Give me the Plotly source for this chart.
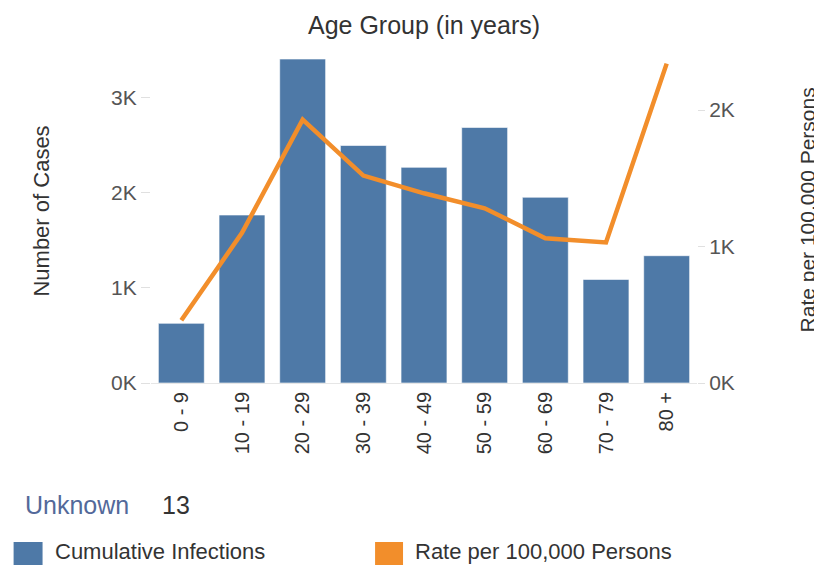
import plotly.graph_objects as go

age_groups = ["0 - 9", "10 - 19", "20 - 29", "30 - 39", "40 - 49", "50 - 59", "60 - 69", "70 - 79", "80 +"]
cumulative_infections = [628, 1768, 3410, 2500, 2270, 2690, 1955, 1090, 1340]
rate_per_100k = [460, 1100, 1930, 1520, 1390, 1280, 1060, 1030, 2340]
left_ticks = [0, 1000, 2000, 3000]
left_tick_text = ["0K", "1K", "2K", "3K"]
right_ticks = [0, 1000, 2000]
right_tick_text = ["0K", "1K", "2K"]
unknown_count = 13

BLUE = "#4e79a7"
ORANGE = "#f28e2b"
FONT = "Liberation Sans, Arial, sans-serif"

W, H = 822, 565
OFF = 8  # page body margin
L, R, T, B = 150.6 - OFF, 697.4 - OFF, 50 - OFF, 383 - OFF
PW, PH = R - L, B - T

def px(x):
    return (x - OFF - L) / PW

def py(y):
    return (B - (y - OFF)) / PH

fig = go.Figure()
fig.add_trace(go.Bar(
    x=age_groups, y=cumulative_infections, name="Cumulative Infections",
    marker=dict(color=BLUE, line=dict(color="rgba(255,255,255,0.6)", width=1)),
    showlegend=False,
))
fig.add_trace(go.Scatter(
    x=age_groups, y=rate_per_100k, name="Rate per 100,000 Persons", yaxis="y2",
    mode="lines", line=dict(color=ORANGE, width=4.5), showlegend=False,
))

fig.update_layout(
    width=W, height=H,
    margin=dict(l=L, r=W - R, t=T, b=H - B, pad=0),
    paper_bgcolor="white", plot_bgcolor="white",
    bargap=0.243,
    font=dict(family=FONT, color="#333"),
    xaxis=dict(type="category", tickangle=-90, showgrid=False, zeroline=False,
               showline=True, linecolor="#e6e6e6", ticks="",
               tickfont=dict(size=20, color="#333")),
    yaxis=dict(range=[0, 3505], tickvals=left_ticks, ticktext=left_tick_text,
               showgrid=False, zeroline=False, showline=False,
               ticks="outside", ticklen=9, tickcolor="#e0e0e0",
               tickfont=dict(size=21, color="#555")),
    yaxis2=dict(range=[0, 2440], tickvals=right_ticks, ticktext=right_tick_text,
                overlaying="y", side="right", showgrid=False, zeroline=False,
                showline=False, ticks="outside", ticklen=7, tickcolor="#e0e0e0",
                tickfont=dict(size=21, color="#555")),
)

ann = [
    dict(text="Age Group (in years)", x=0.5, y=py(25), font=dict(size=25, color="#333"),
         xanchor="center", yanchor="middle"),
    dict(text="Number of Cases", x=px(40), y=py(211), textangle=-90,
         font=dict(size=22, color="#333"), xanchor="center", yanchor="middle"),
    dict(text="Rate per 100,000 Persons", x=px(808), y=py(210), textangle=-90,
         font=dict(size=21, color="#333"), xanchor="center", yanchor="middle"),
    dict(text="Unknown", x=px(22), y=py(505), font=dict(size=25, color="#53699a"),
         xanchor="left", yanchor="middle"),
    dict(text=str(unknown_count), x=px(160), y=py(505), font=dict(size=25, color="#333"),
         xanchor="left", yanchor="middle"),
    dict(text="Cumulative Infections", x=px(52), y=py(551), font=dict(size=22, color="#333"),
         xanchor="left", yanchor="middle"),
    dict(text="Rate per 100,000 Persons", x=px(413), y=py(551), font=dict(size=22, color="#333"),
         xanchor="left", yanchor="middle"),
]
for a in ann:
    a.update(xref="paper", yref="paper", showarrow=False)
fig.update_layout(annotations=ann)

fig.update_layout(shapes=[
    dict(type="rect", xref="paper", yref="paper", x0=px(13), x1=px(42), y0=py(542), y1=py(575),
         fillcolor=BLUE, line=dict(width=0)),
    dict(type="rect", xref="paper", yref="paper", x0=px(375), x1=px(403), y0=py(542), y1=py(575),
         fillcolor=ORANGE, line=dict(width=0)),
])

fig.write_html("out.html")
